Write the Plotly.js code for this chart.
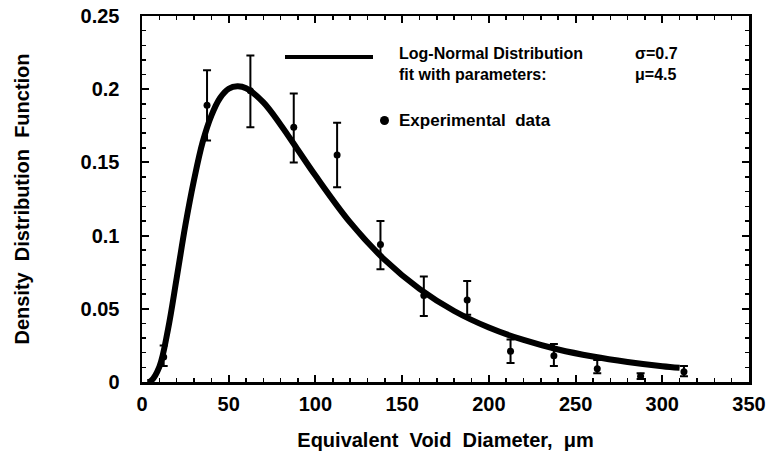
<!DOCTYPE html>
<html>
<head>
<meta charset="utf-8">
<script src="https://cdn.plot.ly/plotly-3.0.1.min.js"></script>
<style>
html,body{margin:0;padding:0;background:#fff;}
#chart{width:779px;height:460px;}
</style>
</head>
<body>
<div id="chart"></div>
<script>
// Fitted log-normal curve
const curveX = [3, 5, 10, 15, 20, 25, 30, 35, 40, 45, 50, 55, 60, 70, 80, 90, 100, 120, 140, 160, 180, 200, 220, 240, 260, 280, 300, 310];
const curveY = [0.0, 0.0006, 0.0104, 0.036, 0.071, 0.107, 0.138, 0.164, 0.182, 0.194, 0.2003, 0.202, 0.2007, 0.191, 0.1756, 0.1583, 0.141, 0.109, 0.0834, 0.0636, 0.0485, 0.0372, 0.0287, 0.0222, 0.0174, 0.0137, 0.0108, 0.0097];

// Experimental data with error bars
const dataX = [12.5, 37.5, 62.5, 87.5, 112.5, 137.5, 162.5, 187.5, 212.5, 237.5, 262.5, 287.5, 312.5];
const dataY = [0.017, 0.189, 0.199, 0.174, 0.155, 0.094, 0.059, 0.056, 0.021, 0.018, 0.009, 0.004, 0.007];
const errPlus = [0.008, 0.024, 0.024, 0.023, 0.022, 0.016, 0.013, 0.013, 0.008, 0.008, 0.006, 0.002, 0.004];
const errMinus = [0.006, 0.024, 0.025, 0.024, 0.022, 0.017, 0.014, 0.010, 0.008, 0.007, 0.003, 0.002, 0.003];

const xTicks = [0, 50, 100, 150, 200, 250, 300, 350];
const yTicks = [0, 0.05, 0.1, 0.15, 0.2, 0.25];
const yTickText = ['0', '0.05', '0.1', '0.15', '0.2', '0.25'];

const font = 'Liberation Sans, Arial, Helvetica, sans-serif';

const traces = [
  {
    x: dataX, y: dataY, type: 'scatter', mode: 'markers',
    marker: {color: '#000', size: 7},
    error_y: {type: 'data', array: errPlus, arrayminus: errMinus, symmetric: false,
              color: '#000', thickness: 2, width: 4},
    showlegend: false, hoverinfo: 'skip'
  },
  {
    x: curveX, y: curveY, type: 'scatter', mode: 'lines',
    line: {color: '#000', width: 6, shape: 'spline'},
    showlegend: false, hoverinfo: 'skip'
  }
];

const axisCommon = {
  showline: true, linecolor: '#000', linewidth: 2.5, mirror: 'ticks',
  ticks: 'inside', ticklen: 7, tickwidth: 2, tickcolor: '#000',
  showgrid: false, zeroline: false,
  tickfont: {family: font, size: 20, color: '#000', weight: 'bold'}
};

const layout = {
  width: 779, height: 460,
  margin: {l: 142, r: 30, t: 16, b: 78},
  paper_bgcolor: '#fff', plot_bgcolor: '#fff',
  font: {family: font, color: '#000'},
  xaxis: Object.assign({}, axisCommon, {
    range: [0, 350], tickvals: xTicks, ticktext: xTicks.map(String),
    ticklabelstandoff: 2,
    minor: {dtick: 10, ticks: 'inside', ticklen: 4, tickwidth: 1.5, tickcolor: '#000'},
    title: {text: '<b>Equivalent  Void  Diameter,  μm</b>', font: {family: font, size: 20, color: '#000'}, standoff: 20}
  }),
  yaxis: Object.assign({}, axisCommon, {
    range: [0, 0.25], tickvals: yTicks, ticktext: yTickText,
    ticklabelstandoff: 16,
    minor: {dtick: 0.01, ticks: 'inside', ticklen: 4, tickwidth: 1.5, tickcolor: '#000'},
    title: {text: '<b>Density  Distribution  Function</b>', font: {family: font, size: 20, color: '#000'}, standoff: 46}
  }),
  shapes: [
    {type: 'line', xref: 'paper', yref: 'paper', x0: (285-142)/607, x1: (373-142)/607,
     y0: (382-57)/366, y1: (382-57)/366, line: {color: '#000', width: 4}},
    {type: 'circle', xref: 'paper', yref: 'paper', x0: (380-142)/607, x1: (389-142)/607,
     y0: (382-125)/366, y1: (382-116)/366, fillcolor: '#000', line: {color: '#000', width: 0}}
  ],
  annotations: [
    {xref: 'paper', yref: 'paper', x: (397-142)/607, y: (382-64)/366, xanchor: 'left', yanchor: 'middle',
     showarrow: false, align: 'left', text: '<b>Log-Normal Distribution</b><br><b>fit with parameters:</b>',
     font: {family: font, size: 16, color: '#000'}},
    {xref: 'paper', yref: 'paper', x: (633-142)/607, y: (382-64)/366, xanchor: 'left', yanchor: 'middle',
     showarrow: false, align: 'left', text: '<b>σ=0.7</b><br><b>μ=4.5</b>',
     font: {family: font, size: 16, color: '#000'}},
    {xref: 'paper', yref: 'paper', x: (397-142)/607, y: (382-120)/366, xanchor: 'left', yanchor: 'middle',
     showarrow: false, text: '<b>Experimental  data</b>',
     font: {family: font, size: 17, color: '#000'}}
  ]
};

Plotly.newPlot('chart', traces, layout, {displayModeBar: false, staticPlot: true});
</script>
</body>
</html>
